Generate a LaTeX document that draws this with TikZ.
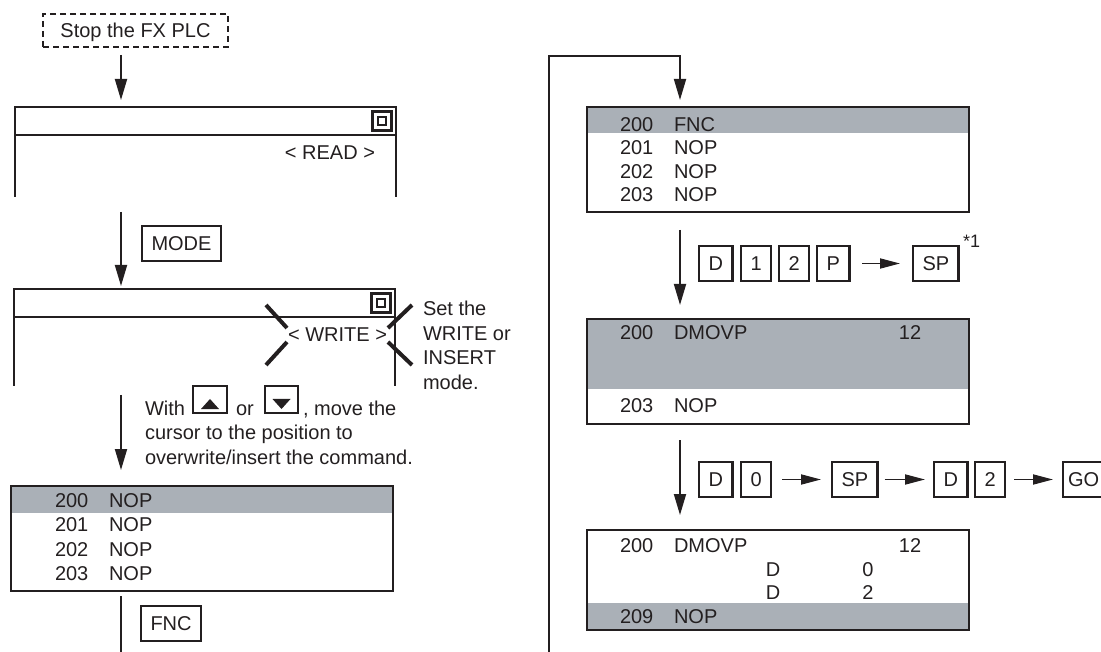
\documentclass[tikz,border=0pt]{standalone}
\usepackage{fontspec}
\setmainfont{Liberation Sans}
\usetikzlibrary{arrows.meta}
\definecolor{ink}{RGB}{35,31,32}
\definecolor{hl}{RGB}{170,176,183}
\begin{document}
\begin{tikzpicture}[x=1pt,y=-1pt,
  every node/.style={font=\fontsize{20}{24}\selectfont, text=ink, inner sep=0pt, outer sep=0pt},
  lbl/.style={anchor=base west},
  num/.style={anchor=base},
  area/.style={anchor=north west},
  key/.style={draw=ink, line width=2.4pt, minimum height=35pt, inner xsep=9.5pt, text height=14.4pt, text depth=0pt, anchor=west},
  arrowkey/.style={draw=ink, line width=2.2pt, minimum height=27pt, anchor=north west},
  frame/.style={draw=ink, line width=2.6pt},
  listbox/.style={draw=ink, line width=2.6pt, anchor=north west, minimum width=382pt, minimum height=105pt},
  flow/.style={draw=ink, line width=1.8pt, -{Triangle[length=21pt,width=12pt]}},
  hflow/.style={draw=ink, line width=1.8pt, -{Triangle[length=20pt,width=10pt]}},
  plain/.style={draw=ink, line width=1.8pt},
  crossbar/.style={draw=ink, line width=4pt},
  icon/.style={draw=ink, line width=2.4pt},
]
\useasboundingbox (0,0) rectangle (1101,652);
\coordinate (colL) at (121,0);
\coordinate (colR) at (680,0);

% ================= left column
\node[area, draw=ink, line width=1.8pt, dash pattern=on 6pt off 4pt, minimum width=185pt, minimum height=33pt, text height=14.4pt, text depth=0pt] (stop) at (43,14) {Stop the FX PLC};

% screen 1
\node[area, minimum width=381pt, minimum height=90pt] (S1) at (15,107) {};
\draw[frame] (S1.south west) -- (S1.north west) -- (S1.north east) -- (S1.south east);
\draw[frame] (15,135) -- (396,135);
\draw[icon] (372.5,111.5) rectangle (391.5,130.5);
\draw[icon] (378,117) rectangle (386,125);
\node[anchor=base east] (read) at (375,160) {< READ >};

\node[key] (mode) at (142,243.5) {MODE};

% screen 2
\node[area, minimum width=381pt, minimum height=97pt] (S2) at (14,289) {};
\draw[frame] (S2.south west) -- (S2.north west) -- (S2.north east) -- (S2.south east);
\draw[frame] (14,317) -- (395,317);
\draw[icon] (371.5,293.5) rectangle (390.5,312.5);
\draw[icon] (377,299) rectangle (385,307);
\node[anchor=base east] (write) at (387,342) {< WRITE >};
\draw[crossbar] (266,305) -- (287,328);
\draw[crossbar] (287,342) -- (266,365);
\draw[crossbar] (412,305) -- (388,328);
\draw[crossbar] (388,342) -- (412,365);
\node[lbl] (n1) at (423,316) {Set the};
\node[lbl] (n2) at (423,341) {WRITE or};
\node[lbl] (n3) at (423,365) {INSERT};
\node[lbl] (n4) at (423,390) {mode.};

% cursor text
\node[lbl] (w1) at (145,415) {With};
\node[arrowkey, minimum width=34pt] (kup) at (193,386) {};
\fill[ink] (201,409) -- (219,409) -- (210,399) -- cycle;
\node[lbl] (w2) at (236,415) {or};
\node[arrowkey, minimum width=33pt] (kdn) at (265,386) {};
\fill[ink] (272.5,399) -- (290.5,399) -- (281.5,409) -- cycle;
\node[lbl] (w3) at (303,415) {, move the};
\node[lbl] (w4) at (145,439.5) {cursor to the position to};
\node[lbl] (w5) at (145,464) {overwrite/insert the command.};

% listing L
\fill[hl] (11,486) rectangle (393,513);
\node[listbox] (L) at (11,486) {};
\node[lbl] at (55,507) {200};   \node[lbl] at (109,507) {NOP};
\node[lbl] at (55,531.5) {201}; \node[lbl] at (109,531.5) {NOP};
\node[lbl] at (55,556) {202};   \node[lbl] at (109,556) {NOP};
\node[lbl] at (55,580.5) {203}; \node[lbl] at (109,580.5) {NOP};

\node[key] (fnc) at (141,623.5) {FNC};
\coordinate (Lend) at (121,652);

% ================= right column
\coordinate (loopA) at (549,652);
\coordinate (loopB) at (549,56);
\coordinate (loopC) at (680,56);

% listing R1
\fill[hl] (587,107) rectangle (969,133);
\node[listbox] (R1) at (587,107) {};
\node[lbl] at (620,131.5) {200}; \node[lbl] at (674,131.5) {FNC};
\node[lbl] at (620,155) {201};   \node[lbl] at (674,155) {NOP};
\node[lbl] at (620,178.5) {202}; \node[lbl] at (674,178.5) {NOP};
\node[lbl] at (620,202) {203};   \node[lbl] at (674,202) {NOP};

% key row 1
\node[key] (kD1) at (699,263.5) {D};
\node[key] (k1) at (741,263.5) {1};
\node[key] (k2) at (779,263.5) {2};
\node[key] (kP) at (817,263.5) {P};
\node[key] (kSP1) at (913,263.5) {SP};
\node[lbl, font=\fontsize{18}{20}\selectfont] (star) at (963,247.5) {*1};

% listing R2
\fill[hl] (587,319) rectangle (969,389);
\node[listbox] (R2) at (587,319) {};
\node[lbl] at (620,340) {200}; \node[lbl] at (674,340) {DMOVP}; \node[num] at (910,340) {12};
\node[lbl] at (620,413) {203}; \node[lbl] at (674,413) {NOP};

% key row 2
\node[key] (kD2) at (699,479.5) {D};
\node[key] (k0) at (741,479.5) {0};
\node[key] (kSP2) at (832,479.5) {SP};
\node[key] (kD3) at (934,479.5) {D};
\node[key] (k2b) at (975,479.5) {2};
\node[key, inner xsep=5pt] (kGO) at (1063,479.5) {GO};

% listing R3
\fill[hl] (587,603) rectangle (969,630);
\node[listbox, minimum height=100pt] (R3) at (587,530) {};
\node[lbl] at (620,552) {200}; \node[lbl] at (674,552) {DMOVP}; \node[num] at (910,552) {12};
\node[num] at (773,576) {D}; \node[num] at (868,576) {0};
\node[num] at (773,599) {D}; \node[num] at (868,599) {2};
\node[lbl] at (620,623) {209}; \node[lbl] at (674,623) {NOP};

% ================= connectors
\draw[flow, shorten <=8pt, shorten >=7pt] (stop.south -| colL) -- (S1.north -| colL);
\draw[flow, shorten <=15pt, shorten >=3pt] (S1.south -| colL) -- (S2.north -| colL);
\draw[flow, shorten <=9pt, shorten >=16pt] (S2.south -| colL) -- (L.north -| colL);
\draw[plain, shorten <=5pt] (L.south -| colL) -- (Lend);

\draw[flow, shorten >=7pt] (loopA) -- (loopB) -- (loopC) -- (R1.north -| colR);
\draw[flow, shorten <=18pt, shorten >=14pt] (R1.south -| colR) -- (R2.north -| colR);
\draw[flow, shorten <=16pt, shorten >=15pt] (R2.south -| colR) -- (R3.north -| colR);

\draw[hflow, shorten <=13pt, shorten >=13pt] (kP) -- (kSP1);
\draw[hflow, shorten <=11pt, shorten >=11pt] (k0) -- (kSP2);
\draw[hflow, shorten <=7pt, shorten >=9pt] (kSP2) -- (kD3);
\draw[hflow, shorten <=9pt, shorten >=10pt] (k2b) -- (kGO);
\end{tikzpicture}
\end{document}
